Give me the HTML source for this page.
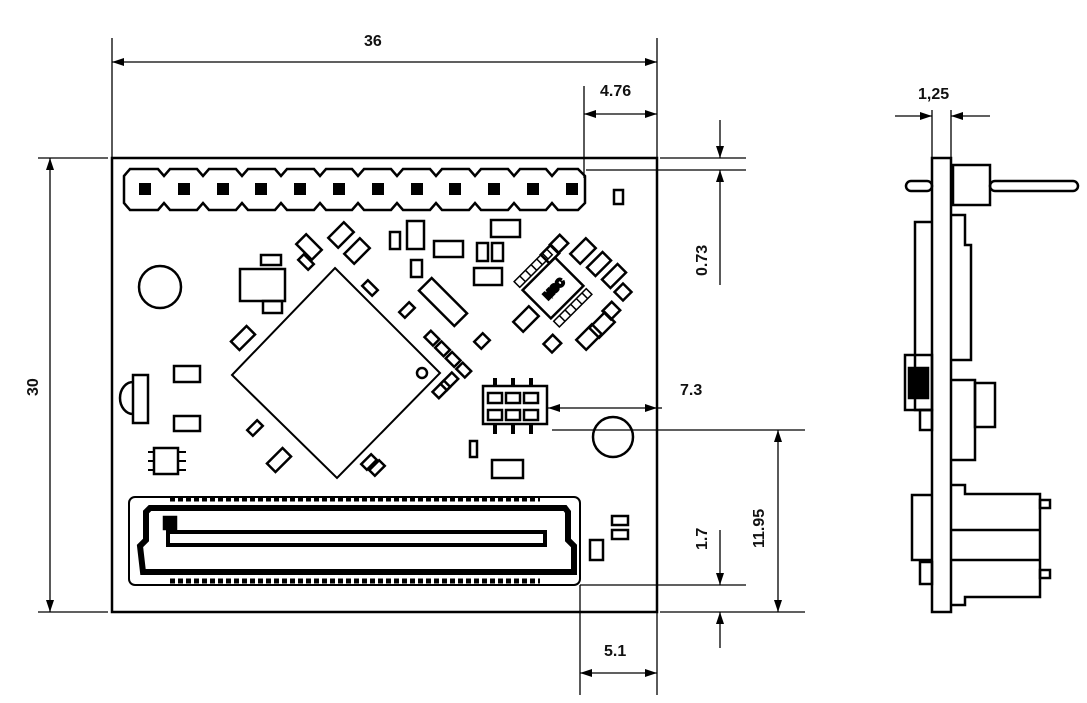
<!DOCTYPE html>
<html><head><meta charset="utf-8"><style>
html,body{margin:0;padding:0;background:#fff;width:1087px;height:703px;overflow:hidden}
svg{display:block}
text{font-family:"Liberation Sans",sans-serif;font-weight:bold;font-size:16px;fill:#111}
</style></head><body>
<svg width="1087" height="703" viewBox="0 0 1087 703" xmlns="http://www.w3.org/2000/svg">
<defs>
<marker id="a" viewBox="0 0 12 8" refX="12" refY="4" markerWidth="12" markerHeight="8" orient="auto-start-reverse" markerUnits="userSpaceOnUse"><path d="M0,0 L12,4 L0,8 z" fill="#000"/></marker>
</defs>
<g stroke="#000" stroke-width="1.3" fill="none">
<line x1="112" y1="38" x2="112" y2="158"/><line x1="657" y1="38" x2="657" y2="158"/>
<line x1="112" y1="62" x2="657" y2="62" marker-start="url(#a)" marker-end="url(#a)"/>
<line x1="584" y1="86" x2="584" y2="178"/>
<line x1="584" y1="114" x2="657" y2="114" marker-start="url(#a)" marker-end="url(#a)"/>
<line x1="38" y1="158" x2="108" y2="158"/><line x1="38" y1="612" x2="108" y2="612"/>
<line x1="50" y1="158" x2="50" y2="612" marker-start="url(#a)" marker-end="url(#a)"/>
<line x1="660" y1="158" x2="746" y2="158"/><line x1="586" y1="170" x2="746" y2="170"/>
<line x1="720" y1="120" x2="720" y2="158" marker-end="url(#a)"/>
<line x1="720" y1="285" x2="720" y2="170" marker-end="url(#a)"/>
<line x1="548" y1="408" x2="657" y2="408" marker-start="url(#a)" marker-end="url(#a)"/>
<line x1="657" y1="408" x2="662" y2="408"/>
<line x1="552" y1="430" x2="805" y2="430"/><line x1="660" y1="612" x2="805" y2="612"/>
<line x1="778" y1="430" x2="778" y2="612" marker-start="url(#a)" marker-end="url(#a)"/>
<line x1="580" y1="585" x2="746" y2="585"/>
<line x1="720" y1="530" x2="720" y2="585" marker-end="url(#a)"/>
<line x1="720" y1="648" x2="720" y2="612" marker-end="url(#a)"/>
<line x1="580" y1="585" x2="580" y2="695"/><line x1="657" y1="612" x2="657" y2="695"/>
<line x1="580" y1="673" x2="657" y2="673" marker-start="url(#a)" marker-end="url(#a)"/>
<line x1="932" y1="110" x2="932" y2="158"/><line x1="951" y1="110" x2="951" y2="158"/>
<line x1="895" y1="116" x2="932" y2="116" marker-end="url(#a)"/>
<line x1="990" y1="116" x2="951" y2="116" marker-end="url(#a)"/>
</g>
<text x="364" y="46">36</text>
<text x="600" y="96">4.76</text>
<text x="680" y="395">7.3</text>
<text x="604" y="656">5.1</text>
<text x="918" y="99">1,25</text>
<text transform="translate(38,396) rotate(-90)">30</text>
<text transform="translate(707,276) rotate(-90)">0.73</text>
<text transform="translate(707,550) rotate(-90)">1.7</text>
<text transform="translate(764,548) rotate(-90)">11.95</text>

<g stroke="#000" stroke-width="2.5" fill="none">
<rect x="112" y="158" width="545" height="454"/>
<path d="M124,176 L130,169 L158,169 L164,176 L170,169 L197,169 L203,176 L209,169 L236,169 L242,176 L248,169 L275,169 L281,176 L287,169 L314,169 L320,176 L326,169 L352,169 L358,176 L364,169 L391,169 L397,176 L403,169 L430,169 L436,176 L442,169 L469,169 L475,176 L481,169 L508,169 L514,176 L520,169 L546,169 L552,176 L558,169 L578,169 L585,176 L585,203 L578,210 L558,210 L552,203 L546,210 L520,210 L514,203 L508,210 L481,210 L475,203 L469,210 L442,210 L436,203 L430,210 L403,210 L397,203 L391,210 L364,210 L358,203 L352,210 L326,210 L320,203 L314,210 L287,210 L281,203 L275,210 L248,210 L242,203 L236,210 L209,210 L203,203 L197,210 L170,210 L164,203 L158,210 L130,210 L124,203 Z"/>
<g fill="#000" stroke="none">
<rect x="139" y="183" width="12" height="12"/><rect x="178" y="183" width="12" height="12"/><rect x="217" y="183" width="12" height="12"/><rect x="255" y="183" width="12" height="12"/><rect x="294" y="183" width="12" height="12"/><rect x="333" y="183" width="12" height="12"/><rect x="372" y="183" width="12" height="12"/><rect x="411" y="183" width="12" height="12"/><rect x="449" y="183" width="12" height="12"/><rect x="488" y="183" width="12" height="12"/><rect x="527" y="183" width="12" height="12"/><rect x="566" y="183" width="12" height="12"/>
</g>
<rect x="614" y="190" width="9" height="14"/>
<circle cx="160" cy="287" r="21"/>
<rect x="261" y="255" width="20" height="10"/>
<rect x="240" y="269" width="45" height="32"/>
<rect x="263" y="301" width="19" height="12"/>
<path d="M335,268 L440,373 L337,478 L232,375 Z" stroke-width="2"/>
<circle cx="422" cy="373" r="5"/>
<rect x="390" y="232" width="10" height="17"/>
<rect x="407" y="221" width="17" height="28"/>
<rect x="434" y="241" width="29" height="16"/>
<rect x="491" y="220" width="29" height="17"/>
<rect x="477" y="243" width="11" height="18"/><rect x="492" y="243" width="11" height="18"/>
<rect x="474" y="268" width="28" height="17"/>
<rect x="411" y="260" width="11" height="17"/>
<rect x="418" y="293" width="50" height="18" transform="rotate(45 443 302)"/>
<rect x="298" y="240" width="22" height="14" transform="rotate(45 309 247)"/>
<rect x="330" y="228" width="22" height="14" transform="rotate(-45 341 235)"/>
<rect x="346" y="244" width="22" height="14" transform="rotate(-45 357 251)"/>
<rect x="299" y="258" width="14" height="8" transform="rotate(45 306 262)"/>
<rect x="363" y="284" width="14" height="8" transform="rotate(45 370 288)"/>
<rect x="400" y="306" width="14" height="8" transform="rotate(-45 407 310)"/>
<rect x="232" y="332" width="22" height="12" transform="rotate(-45 243 338)"/>
<g transform="rotate(45 445 352)"><rect x="420" y="347" width="12" height="9"/><rect x="435" y="347" width="12" height="9"/><rect x="450" y="347" width="12" height="9"/><rect x="465" y="347" width="12" height="9"/></g>
<rect x="476" y="336" width="12" height="10" transform="rotate(-45 482 341)"/>
<rect x="433" y="385" width="16" height="9" transform="rotate(-45 441 389)"/>
<rect x="441" y="377" width="16" height="9" transform="rotate(-45 449 381)"/>
<rect x="248" y="424" width="14" height="8" transform="rotate(-45 255 428)"/>
<rect x="268" y="454" width="22" height="12" transform="rotate(-45 279 460)"/>
<rect x="362" y="458" width="14" height="8" transform="rotate(-45 369 462)"/>
<rect x="370" y="464" width="14" height="8" transform="rotate(-45 377 468)"/>
<rect x="530" y="268" width="46" height="40" transform="rotate(-45 553 288)"/>
<text transform="translate(548,300) rotate(-45)" style="font-size:11px">MSC</text>
<g transform="rotate(-45 553 288)">
<rect x="530" y="256" width="46" height="8" stroke-width="1.5"/><rect x="530" y="312" width="46" height="8" stroke-width="1.5"/>
<g stroke-width="1.5"><line x1="538" y1="256" x2="538" y2="264"/><line x1="546" y1="256" x2="546" y2="264"/><line x1="554" y1="256" x2="554" y2="264"/><line x1="562" y1="256" x2="562" y2="264"/><line x1="570" y1="256" x2="570" y2="264"/><line x1="538" y1="312" x2="538" y2="320"/><line x1="546" y1="312" x2="546" y2="320"/><line x1="554" y1="312" x2="554" y2="320"/><line x1="562" y1="312" x2="562" y2="320"/><line x1="570" y1="312" x2="570" y2="320"/></g>
</g>
<rect x="552" y="238" width="14" height="12" transform="rotate(-45 559 244)"/>
<rect x="543" y="248" width="14" height="12" transform="rotate(-45 550 254)"/>
<rect x="572" y="244" width="22" height="14" transform="rotate(-45 583 251)"/>
<rect x="588" y="258" width="22" height="12" transform="rotate(-45 599 264)"/>
<rect x="603" y="270" width="22" height="12" transform="rotate(-45 614 276)"/>
<rect x="617" y="286" width="12" height="12" transform="rotate(-45 623 292)"/>
<rect x="515" y="312" width="22" height="14" transform="rotate(-45 526 319)"/>
<rect x="546" y="338" width="13" height="12" transform="rotate(-45 552 344)"/>
<rect x="578" y="330" width="22" height="14" transform="rotate(-45 589 337)"/>
<rect x="591" y="318" width="22" height="14" transform="rotate(-45 602 325)"/>
<rect x="605" y="305" width="13" height="12" transform="rotate(-45 611 311)"/>
<rect x="133" y="375" width="15" height="48"/>
<path d="M133,382 A13,16 0 0 0 133,414"/>
<rect x="174" y="366" width="26" height="16"/>
<rect x="174" y="416" width="26" height="15"/>
<rect x="154" y="448" width="24" height="26"/>
<g stroke-width="2"><line x1="148" y1="452" x2="154" y2="452"/><line x1="148" y1="461" x2="154" y2="461"/><line x1="148" y1="470" x2="154" y2="470"/><line x1="178" y1="452" x2="186" y2="452"/><line x1="178" y1="461" x2="186" y2="461"/><line x1="178" y1="470" x2="186" y2="470"/></g>
<rect x="483" y="386" width="64" height="38"/>
<rect x="488" y="393" width="14" height="10"/><rect x="506" y="393" width="14" height="10"/><rect x="524" y="393" width="14" height="10"/>
<rect x="488" y="410" width="14" height="10"/><rect x="506" y="410" width="14" height="10"/><rect x="524" y="410" width="14" height="10"/>
<g stroke-width="4"><line x1="495" y1="378" x2="495" y2="386"/><line x1="513" y1="378" x2="513" y2="386"/><line x1="531" y1="378" x2="531" y2="386"/><line x1="495" y1="424" x2="495" y2="434"/><line x1="513" y1="424" x2="513" y2="434"/><line x1="531" y1="424" x2="531" y2="434"/></g>
<circle cx="613" cy="437" r="20"/>
<rect x="470" y="441" width="7" height="16"/>
<rect x="492" y="460" width="31" height="18"/>
<rect x="129" y="497" width="451" height="88" rx="6" stroke-width="2"/>
<path d="M150,508 L565,508 L568,512 L568,540 L574,546 L574,572 L143,572 L140,546 L146,540 L146,512 Z" stroke-width="6"/>
<rect x="168" y="532" width="377" height="13" stroke-width="4"/>
<rect x="164" y="517" width="12" height="12" fill="#000"/>
<line x1="170" y1="499" x2="540" y2="499" stroke-width="5" stroke-dasharray="5,3"/>
<line x1="170" y1="581" x2="540" y2="581" stroke-width="5" stroke-dasharray="5,3"/>
<rect x="590" y="540" width="13" height="20"/>
<rect x="612" y="516" width="16" height="9"/><rect x="612" y="530" width="16" height="9"/>
<rect x="932" y="158" width="19" height="454"/>
<rect x="906" y="181" width="26" height="10" rx="5"/>
<rect x="990" y="181" width="88" height="10" rx="5"/>
<rect x="953" y="165" width="37" height="40"/>
<path d="M951,215 L965,215 L965,245 L971,245 L971,360 L951,360"/>
<path d="M951,380 L975,380 L975,460 L951,460"/>
<rect x="975" y="383" width="20" height="44"/>
<path d="M932,222 L915,222 L915,410 L932,410"/>
<rect x="905" y="355" width="27" height="55"/>
<rect x="909" y="368" width="19" height="30" fill="#000"/>
<rect x="920" y="410" width="12" height="20"/>
<path d="M951,485 L965,485 L965,494 L1040,494 L1040,597 L965,597 L965,605 L951,605"/>
<line x1="951" y1="530" x2="1040" y2="530"/><line x1="951" y1="560" x2="1040" y2="560"/>
<rect x="1040" y="500" width="10" height="8"/><rect x="1040" y="570" width="10" height="8"/>
<path d="M932,495 L912,495 L912,560 L932,560"/>
<rect x="920" y="562" width="12" height="22"/>
</g>
</svg>
</body></html>
